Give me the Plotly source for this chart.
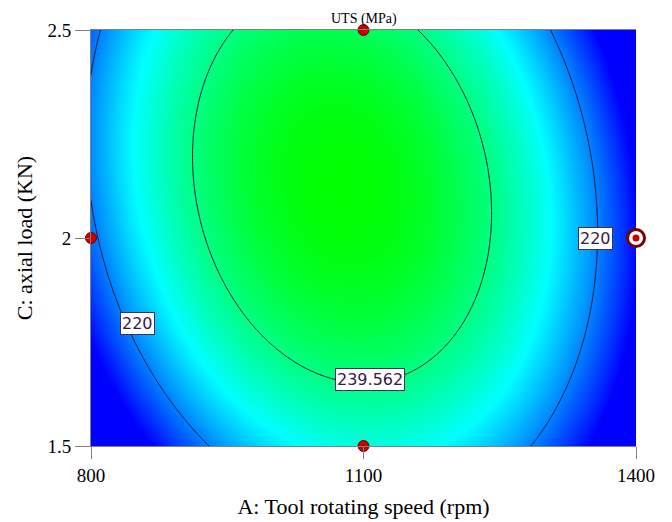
import numpy as np
import plotly.graph_objects as go

b0 = 248.9
bA = -3.99
bC = 5.415
bAC = -5.64
bAA = -34.52
bCC = -11.45

A_range = [800, 1400]
C_range = [1.5, 2.5]
contour_levels = [220, 239.562]

# design points shown on the plot
pts_A = [1100, 800, 1100]
pts_C = [2.5, 2.0, 1.5]
center_A = [1400]
center_C = [2.0]

# contour label positions/texts
label_text = ["220", "220", "239.562"]
label_A = [851, 1355, 1107]
label_C = [1.795, 2.0, 1.66]

x_ticks = [800, 1100, 1400]
y_ticks = [1.5, 2, 2.5]

A = np.linspace(A_range[0], A_range[1], 181)
C = np.linspace(C_range[0], C_range[1], 151)
AA, CC = np.meshgrid(A, C)
a = (AA - 1100) / 300.0
c = (CC - 2.0) / 0.5
Z = b0 + bA * a + bC * c + bAC * a * c + bAA * a ** 2 + bCC * c ** 2

fig = go.Figure()
fig.add_trace(go.Contour(
    x=A, y=C, z=Z,
    zmin=210, zmax=249.75,
    colorscale=[[0, "#0000ff"], [0.5, "#00ffff"], [1, "#00ff00"]],
    contours=dict(start=contour_levels[0], end=240, size=contour_levels[1] - contour_levels[0],
                  coloring="heatmap", showlabels=False),
    line=dict(color="#1a1a3a", width=1),
    showscale=False, hoverinfo="skip",
))

fig.add_trace(go.Scatter(
    x=pts_A, y=pts_C, mode="markers", cliponaxis=False,
    marker=dict(size=11, color="#cc0000", line=dict(color="#6a0000", width=1)),
    showlegend=False,
))
fig.add_trace(go.Scatter(
    x=center_A, y=center_C, mode="markers", cliponaxis=False,
    marker=dict(size=17, color="white", line=dict(color="#7a0000", width=3)),
    showlegend=False,
))
fig.add_trace(go.Scatter(
    x=center_A, y=center_C, mode="markers", cliponaxis=False,
    marker=dict(size=7, color="#cc0000", line=dict(width=0)),
    showlegend=False,
))

for t, xa, yc in zip(label_text, label_A, label_C):
    fig.add_annotation(x=xa, y=yc, text=t, showarrow=False,
                       bgcolor="white", bordercolor="#4a2a5a", borderwidth=1, borderpad=1,
                       font=dict(family="DejaVu Sans", size=16, color="#3a1848"))

fig.add_annotation(x=0.5, y=1, xref="paper", yref="paper", yanchor="bottom", yshift=1,
                   text="UTS (MPa)", showarrow=False,
                   font=dict(family="Liberation Serif", size=14, color="black"))

serif = "Liberation Serif"
fig.update_layout(
    width=672, height=522,
    margin=dict(l=83, r=44, t=12, b=84),
    paper_bgcolor="white", plot_bgcolor="white",
    showlegend=False,
    xaxis=dict(range=A_range, tickvals=x_ticks, ticktext=[str(v) for v in x_ticks],
               ticks="outside", ticklen=12, tickcolor="#808080",
               showline=True, linecolor="#808080", linewidth=1, mirror=True,
               showgrid=False, zeroline=False,
               tickfont=dict(family=serif, size=19, color="black"),
               title=dict(text="A: Tool rotating speed (rpm)", standoff=13,
                          font=dict(family=serif, size=22, color="black"))),
    yaxis=dict(range=C_range, tickvals=y_ticks, ticktext=["1.5", "2", "2.5"],
               ticks="outside", ticklen=15, tickcolor="#808080",
               showline=True, linecolor="#808080", linewidth=1,
               showgrid=False, zeroline=False,
               tickfont=dict(family=serif, size=19, color="black"),
               title=dict(text="C: axial load (KN)", standoff=8,
                          font=dict(family=serif, size=22, color="black"))),
)

fig.write_html("out.html")
